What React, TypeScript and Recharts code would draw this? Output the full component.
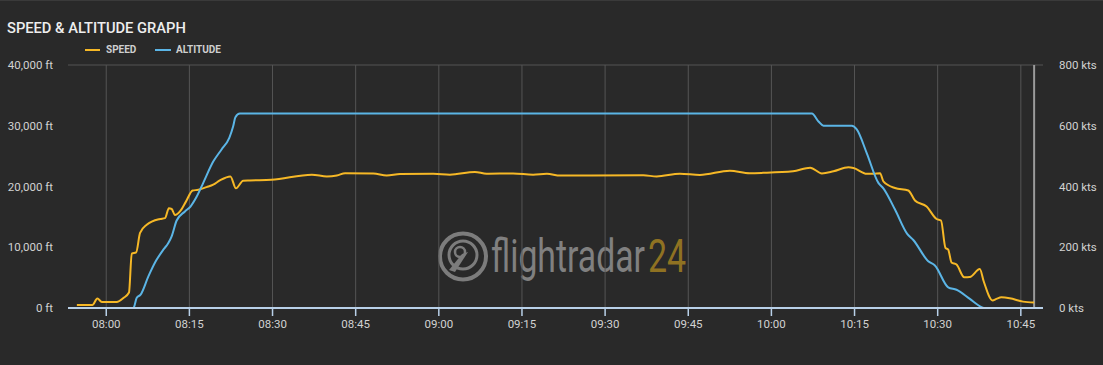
import React from 'react';
import { LineChart, Line, XAxis, YAxis, CartesianGrid, ReferenceLine } from 'recharts';

// time in minutes after midnight
const speedTime = [474.7, 477.5, 478.4, 479.2, 481.9, 483.1, 484.1, 484.6, 485.4, 486.1, 487.3, 489.7, 490.6, 491.3, 491.8, 492.4, 493.3, 494.4, 495.6, 496.6, 498.1, 499.3, 500.5, 502.4, 503.4, 504.7, 505.9, 509.8, 517.1, 519.8, 521.6, 523.1, 528.2, 530.6, 533, 539, 542, 546.5, 548.6, 553.4, 557, 559.5, 561.9, 576.9, 579.3, 583.5, 587.1, 592.5, 596.1, 598.5, 603.9, 607, 609.1, 611.2, 613.9, 614.8, 617.2, 618.4, 619.6, 620.2, 622.3, 624.7, 625.9, 628, 629.8, 630.6, 631.4, 631.9, 632.5, 633.4, 634.8, 635.8, 637.6, 638.3, 639.9, 640.6, 641.5, 643, 645.4, 647.4];
const speedKts = [10, 10, 31, 20, 20, 33, 51, 179, 183, 247, 274, 293, 296, 328, 326, 306, 318, 351, 387, 389, 398, 406, 420, 433, 394, 419, 420, 422, 439, 433, 436, 444, 443, 436, 441, 442, 439, 448, 442, 443, 439, 442, 436, 437, 433, 442, 438, 452, 444, 445, 450, 462, 443, 450, 463, 461, 442, 442, 444, 417, 395, 387, 354, 334, 293, 288, 198, 192, 150, 143, 101, 102, 128, 88, 25, 30, 35, 32, 21, 18];

const altitudeTime = [474.7, 484.9, 485.5, 486.2, 487.6, 489, 490.3, 491.2, 491.8, 492.7, 494.2, 495.2, 496.3, 497.5, 499.3, 500.8, 502.2, 502.9, 503.3, 504.1, 530, 560, 590, 607.3, 608.5, 609.4, 614.5, 615.4, 617.2, 619.3, 620.2, 622.3, 624.5, 625.6, 628.3, 629.5, 631.9, 633.4, 635.8, 637.9, 638.3, 647.4];
const altitudeFt = [0, 0, 1700, 2200, 5200, 7800, 9600, 10700, 11800, 14400, 15900, 16700, 18300, 20600, 24100, 26100, 28000, 29900, 31400, 32000, 32000, 32000, 32000, 32000, 30700, 30000, 30000, 29400, 25500, 20600, 19700, 16200, 12200, 11200, 7700, 7000, 3400, 3000, 1500, 150, 0, 0];

const timeTicks = [480, 495, 510, 525, 540, 555, 570, 585, 600, 615, 630, 645];
const altitudeTicks = [0, 10000, 20000, 30000, 40000];
const speedTicks = [0, 200, 400, 600, 800];
const lastTime = 647.4;

const speedData = speedTime.map((t, i) => ({ t, speed: speedKts[i] }));
const altitudeData = altitudeTime.map((t, i) => ({ t, altitude: altitudeFt[i] }));

const fmtTime = (m: number) => {
  const h = Math.floor(m / 60);
  const mm = Math.round(m - h * 60);
  return `${String(h).padStart(2, '0')}:${String(mm).padStart(2, '0')}`;
};
const fmtFt = (v: number) => `${v.toLocaleString('en-US')} ft`;
const fmtKts = (v: number) => `${v} kts`;

const FONT = 'Roboto, "Open Sans", sans-serif';
const ORANGE = '#f6b826';
const BLUE = '#5bb5e6';
const GRID = '#555555';
const tickStyle = { fill: '#d2d2d2', fontSize: 11.5, fontFamily: FONT };

export default function App() {
  return (
    <div style={{ position: 'absolute', left: 0, top: 0, width: 1103, height: 365, background: '#292929', overflow: 'hidden' }}>
      <div style={{ position: 'absolute', left: 0, top: 0, width: 1103, height: 1, background: '#3a3a3a' }} />
      <svg width={1103} height={365} style={{ position: 'absolute', left: 0, top: 0 }}>
        <text x={7} y={32.7} fill="#eeeeee" fontFamily={FONT} fontSize={14.7} fontWeight={500}>SPEED &amp; ALTITUDE GRAPH</text>
        <line x1={85} y1={50} x2={100} y2={50} stroke={ORANGE} strokeWidth={2} />
        <text x={106} y={52.7} fill="#cfcfcf" fontFamily={FONT} fontSize={10} fontWeight={700}>SPEED</text>
        <line x1={155} y1={50} x2={171} y2={50} stroke={BLUE} strokeWidth={2} />
        <text x={176} y={52.7} fill="#cfcfcf" fontFamily={FONT} fontSize={10} fontWeight={700}>ALTITUDE</text>
        <g opacity={0.9}>
          <circle cx={463} cy={256.5} r={23} fill="none" stroke="#858585" strokeWidth={4} />
          <circle cx={463} cy={255} r={14} fill="none" stroke="#858585" strokeWidth={3} />
          <circle cx={460} cy={252} r={5} fill="none" stroke="#858585" strokeWidth={2.5} />
          <path d="M 462 254 L 468 252 L 455 272 L 449 270 Z" fill="#858585" />
          <text transform="translate(491 271.7) scale(0.713 1)" x={0} y={0} fill="#8a8a8a" fontFamily={FONT} fontSize={47} textLength={216} lengthAdjust="spacingAndGlyphs">flightradar</text>
          <text transform="translate(648 271.7) scale(0.72 1)" x={0} y={0} fill="#9b7a22" fontFamily={FONT} fontSize={47} textLength={53} lengthAdjust="spacingAndGlyphs">24</text>
        </g>
      </svg>
      <div style={{ position: 'absolute', left: 0, top: 0 }}>
        <LineChart width={1103} height={365} margin={{ top: 65, right: 0, bottom: 27, left: 0 }}>
          <CartesianGrid stroke={GRID} strokeWidth={1} vertical={false} />
          <XAxis
            dataKey="t"
            type="number"
            domain={[473.1, 649]}
            ticks={timeTicks}
            tickFormatter={fmtTime}
            allowDataOverflow
            height={30}
            tick={tickStyle}
            tickSize={8}
            tickMargin={4}
            stroke="#b8d0e8"
            axisLine={{ stroke: '#b8d0e8', strokeWidth: 2 }}
            tickLine={{ stroke: '#b8d0e8', strokeWidth: 1.5 }}
          />
          <YAxis
            yAxisId="alt"
            orientation="left"
            width={68}
            domain={[0, 40000]}
            ticks={altitudeTicks}
            tickFormatter={fmtFt}
            axisLine={false}
            tickLine={false}
            tickMargin={9}
            tick={tickStyle}
          />
          <YAxis
            yAxisId="spd"
            orientation="right"
            width={60}
            domain={[0, 800]}
            ticks={speedTicks}
            tickFormatter={fmtKts}
            axisLine={false}
            tickLine={false}
            tickMargin={10}
            tick={{ ...tickStyle, textAnchor: 'start' }}
          />
          {timeTicks.map((t) => (
            <ReferenceLine key={t} yAxisId="alt" x={t} stroke={GRID} strokeWidth={1} />
          ))}
          <ReferenceLine yAxisId="alt" x={lastTime} stroke="#9a9a9a" strokeWidth={2} />
          <Line
            yAxisId="spd"
            data={speedData}
            dataKey="speed"
            type="monotone"
            stroke={ORANGE}
            strokeWidth={2}
            dot={false}
            activeDot={false}
            isAnimationActive={false}
          />
          <Line
            yAxisId="alt"
            data={altitudeData}
            dataKey="altitude"
            type="monotone"
            stroke={BLUE}
            strokeWidth={2}
            dot={false}
            activeDot={false}
            isAnimationActive={false}
          />
        </LineChart>
      </div>
    </div>
  );
}
